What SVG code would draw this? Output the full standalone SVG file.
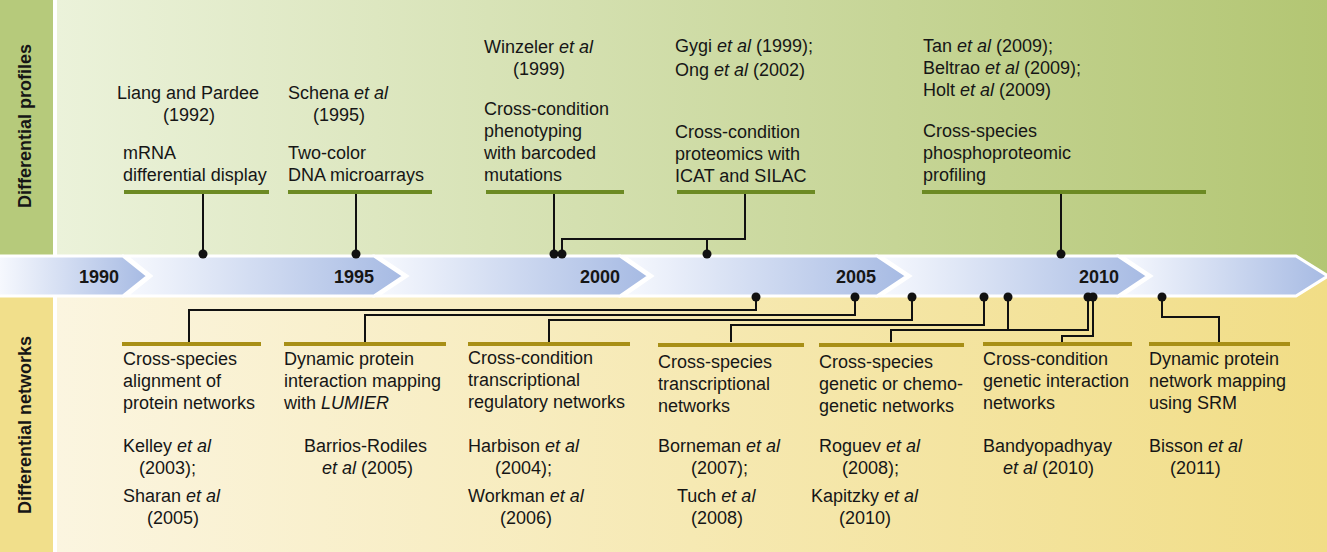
<svg xmlns="http://www.w3.org/2000/svg" width="1327" height="552" viewBox="0 0 1327 552">
<defs>
<linearGradient id="gTop" x1="0" y1="0" x2="1" y2="0"><stop offset="0" stop-color="#ebf2da"/><stop offset="1" stop-color="#b3c673"/></linearGradient>
<linearGradient id="gBot" x1="0" y1="0" x2="1" y2="0"><stop offset="0" stop-color="#fbf5e0"/><stop offset="1" stop-color="#f1dd86"/></linearGradient>
<linearGradient id="gArr" x1="0" y1="0" x2="1" y2="0"><stop offset="0" stop-color="#f7f9fe"/><stop offset="1" stop-color="#a6bae3"/></linearGradient>
<style>
.t{font-family:"Liberation Sans",Arial,sans-serif;font-size:18px;fill:#161616}
.i{font-style:italic}
.yr{font-family:"Liberation Sans",Arial,sans-serif;font-size:18px;font-weight:bold;fill:#161616;text-anchor:middle}
.side{font-family:"Liberation Sans",Arial,sans-serif;font-size:18px;font-weight:bold;fill:#161616;text-anchor:middle}
.bt{fill:#6c8a23}
.bb{fill:#a88f16}
.ln{fill:none;stroke:#111;stroke-width:2}
.dot{fill:#111}
.chev{fill:url(#gArr);stroke:#fff;stroke-width:3}
</style>
</defs>
<g id="background">
<rect x="0" y="0" width="53" height="276" fill="#b6ca7b"/>
<rect x="57" y="0" width="1270" height="276" fill="url(#gTop)"/>
<rect x="0" y="276" width="53" height="276" fill="#f1df8b"/>
<rect x="57" y="276" width="1270" height="276" fill="url(#gBot)"/>
<text class="side" transform="translate(31,126) rotate(-90)">Differential profiles</text>
<text class="side" transform="translate(31,425) rotate(-90)">Differential networks</text>
</g>
<g id="timeline">
<polygon class="chev" points="-2,256 123,256 148,276 123,296 -2,296"/>
<polygon class="chev" points="126,256 374,256 404,276 374,296 126,296 151,276"/>
<polygon class="chev" points="377,256 620,256 649,276 620,296 377,296 407,276"/>
<polygon class="chev" points="623,256 877,256 907,276 877,296 623,296 652,276"/>
<polygon class="chev" points="880,256 1118,256 1148,276 1118,296 880,296 910,276"/>
<polygon class="chev" points="1121,256 1296,256 1328,276 1296,296 1121,296 1151,276"/>
<text class="yr" x="99" y="283">1990</text>
<text class="yr" x="354" y="283">1995</text>
<text class="yr" x="600" y="283">2000</text>
<text class="yr" x="856" y="283">2005</text>
<text class="yr" x="1099" y="283">2010</text>
</g>
<g id="connectors">
<path class="ln" d="M203 194V254"/>
<path class="ln" d="M356 194V254"/>
<path class="ln" d="M554 194V254"/>
<path class="ln" d="M745 194V239H562V254M707 239V254"/>
<path class="ln" d="M1061 194V254"/>
<circle class="dot" cx="203" cy="254" r="4.5"/>
<circle class="dot" cx="356" cy="254" r="4.5"/>
<circle class="dot" cx="554" cy="254" r="4.5"/>
<circle class="dot" cx="562" cy="254" r="4.5"/>
<circle class="dot" cx="707" cy="254" r="4.5"/>
<circle class="dot" cx="1061" cy="254" r="4.5"/>
<path class="ln" d="M189 342V310H756V297"/>
<path class="ln" d="M365 342V315H855V297"/>
<path class="ln" d="M549 342V320H912V297"/>
<path class="ln" d="M731 342V325H984V297"/>
<path class="ln" d="M891 342V330H1088V297M1008 330V297"/>
<path class="ln" d="M1062 342V336H1093V297"/>
<path class="ln" d="M1219 342V317H1162V297"/>
<circle class="dot" cx="756" cy="297" r="4.5"/>
<circle class="dot" cx="855" cy="297" r="4.5"/>
<circle class="dot" cx="912" cy="297" r="4.5"/>
<circle class="dot" cx="984" cy="297" r="4.5"/>
<circle class="dot" cx="1008" cy="297" r="4.5"/>
<circle class="dot" cx="1088" cy="297" r="4.5"/>
<circle class="dot" cx="1093" cy="297" r="4.5"/>
<circle class="dot" cx="1162" cy="297" r="4.5"/>
</g>
<g id="p1">
<text class="t" x="117" y="99">Liang and Pardee</text>
<text class="t" x="163" y="121">(1992)</text>
<text class="t" x="123" y="159">mRNA</text>
<text class="t" x="123" y="181">differential display</text>
<rect class="bt" x="124" y="190" width="145" height="4"/>
</g>
<g id="p2">
<text class="t" x="288" y="99">Schena <tspan class="i">et al</tspan></text>
<text class="t" x="313" y="121">(1995)</text>
<text class="t" x="288" y="159">Two-color</text>
<text class="t" x="288" y="181">DNA microarrays</text>
<rect class="bt" x="288" y="190" width="144" height="4"/>
</g>
<g id="p3">
<text class="t" x="484" y="53">Winzeler <tspan class="i">et al</tspan></text>
<text class="t" x="513" y="75">(1999)</text>
<text class="t" x="484" y="115">Cross-condition</text>
<text class="t" x="484" y="137">phenotyping</text>
<text class="t" x="484" y="159">with barcoded</text>
<text class="t" x="484" y="181">mutations</text>
<rect class="bt" x="486" y="190" width="138" height="4"/>
</g>
<g id="p4">
<text class="t" x="675" y="52">Gygi <tspan class="i">et al</tspan> (1999);</text>
<text class="t" x="675" y="76">Ong <tspan class="i">et al</tspan> (2002)</text>
<text class="t" x="675" y="138">Cross-condition</text>
<text class="t" x="675" y="160">proteomics with</text>
<text class="t" x="675" y="182">ICAT and SILAC</text>
<rect class="bt" x="677" y="190" width="138" height="4"/>
</g>
<g id="p5">
<text class="t" x="923" y="52">Tan <tspan class="i">et al</tspan> (2009);</text>
<text class="t" x="923" y="74">Beltrao <tspan class="i">et al</tspan> (2009);</text>
<text class="t" x="923" y="96">Holt <tspan class="i">et al</tspan> (2009)</text>
<text class="t" x="923" y="137">Cross-species</text>
<text class="t" x="923" y="159">phosphoproteomic</text>
<text class="t" x="923" y="181">profiling</text>
<rect class="bt" x="922" y="190" width="284" height="4"/>
</g>
<g id="n1">
<rect class="bb" x="122" y="342" width="139" height="4"/>
<text class="t" x="123" y="365">Cross-species</text>
<text class="t" x="123" y="387">alignment of</text>
<text class="t" x="123" y="409">protein networks</text>
<text class="t" x="123" y="452">Kelley <tspan class="i">et al</tspan></text>
<text class="t" x="139" y="474">(2003);</text>
<text class="t" x="123" y="502">Sharan <tspan class="i">et al</tspan></text>
<text class="t" x="147" y="524">(2005)</text>
</g>
<g id="n2">
<rect class="bb" x="284" y="342" width="162" height="4"/>
<text class="t" x="284" y="365">Dynamic protein</text>
<text class="t" x="284" y="387">interaction mapping</text>
<text class="t" x="284" y="409">with <tspan class="i">LUMIER</tspan></text>
<text class="t" x="304" y="452">Barrios-Rodiles</text>
<text class="t" x="322" y="474"><tspan class="i">et al</tspan> (2005)</text>
</g>
<g id="n3">
<rect class="bb" x="468" y="342" width="162" height="4"/>
<text class="t" x="468" y="364">Cross-condition</text>
<text class="t" x="468" y="386">transcriptional</text>
<text class="t" x="468" y="408">regulatory networks</text>
<text class="t" x="468" y="452">Harbison <tspan class="i">et al</tspan></text>
<text class="t" x="495" y="474">(2004);</text>
<text class="t" x="468" y="502">Workman <tspan class="i">et al</tspan></text>
<text class="t" x="500" y="524">(2006)</text>
</g>
<g id="n4">
<rect class="bb" x="658" y="343" width="146" height="4"/>
<text class="t" x="658" y="368">Cross-species</text>
<text class="t" x="658" y="390">transcriptional</text>
<text class="t" x="658" y="412">networks</text>
<text class="t" x="658" y="452">Borneman <tspan class="i">et al</tspan></text>
<text class="t" x="691" y="474">(2007);</text>
<text class="t" x="677" y="502">Tuch <tspan class="i">et al</tspan></text>
<text class="t" x="691" y="524">(2008)</text>
</g>
<g id="n5">
<rect class="bb" x="819" y="343" width="145" height="4"/>
<text class="t" x="819" y="368">Cross-species</text>
<text class="t" x="819" y="390">genetic or chemo-</text>
<text class="t" x="819" y="412">genetic networks</text>
<text class="t" x="819" y="452">Roguev <tspan class="i">et al</tspan></text>
<text class="t" x="842" y="474">(2008);</text>
<text class="t" x="811" y="502">Kapitzky <tspan class="i">et al</tspan></text>
<text class="t" x="839" y="524">(2010)</text>
</g>
<g id="n6">
<rect class="bb" x="983" y="342" width="149" height="4"/>
<text class="t" x="983" y="365">Cross-condition</text>
<text class="t" x="983" y="387">genetic interaction</text>
<text class="t" x="983" y="409">networks</text>
<text class="t" x="983" y="452">Bandyopadhyay</text>
<text class="t" x="1003" y="474"><tspan class="i">et al</tspan> (2010)</text>
</g>
<g id="n7">
<rect class="bb" x="1149" y="342" width="141" height="4"/>
<text class="t" x="1149" y="365">Dynamic protein</text>
<text class="t" x="1149" y="387">network mapping</text>
<text class="t" x="1149" y="409">using SRM</text>
<text class="t" x="1149" y="452">Bisson <tspan class="i">et al</tspan></text>
<text class="t" x="1170" y="474">(2011)</text>
</g>
</svg>
